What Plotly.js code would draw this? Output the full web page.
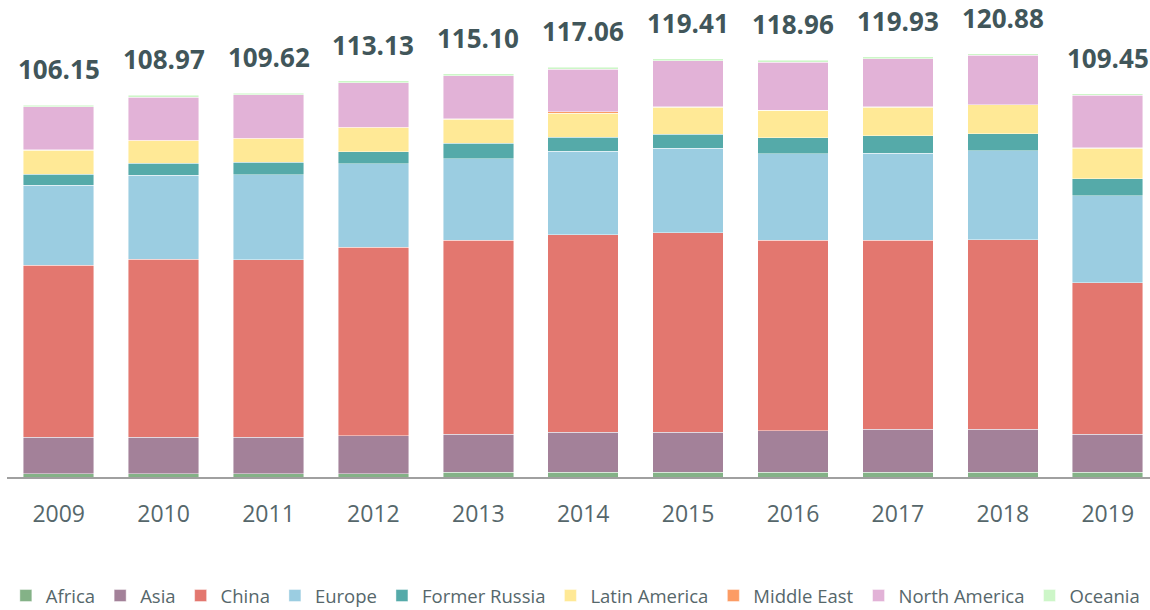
<!DOCTYPE html>
<html>
<head>
<meta charset="utf-8">
<script src="https://cdn.plot.ly/plotly-3.0.1.min.js"></script>
<style>
  html, body { margin: 0; padding: 0; background: #ffffff; }
  #chart { width: 1150px; height: 610px; }
</style>
</head>
<body>
<div id="chart"></div>
<script>
const years = ['2009','2010','2011','2012','2013','2014','2015','2016','2017','2018','2019'];
const totals = [106.15, 108.97, 109.62, 113.13, 115.10, 117.06, 119.41, 118.96, 119.93, 120.88, 109.45];

const africa        = [0.9, 0.9, 0.9, 0.9, 1.3, 1.3, 1.3, 1.3, 1.3, 1.3, 1.3];
const asia          = [10.48, 10.48, 10.48, 10.94, 10.94, 11.42, 11.42, 11.88, 12.37, 12.37, 10.94];
const china         = [49.08, 50.82, 50.72, 53.78, 55.33, 56.47, 56.97, 54.36, 54.00, 54.09, 43.24];
const europe        = [22.84, 23.90, 24.27, 23.79, 23.33, 23.79, 24.19, 24.76, 24.76, 25.33, 24.84];
const formerRussia  = [3.14, 3.43, 3.43, 3.51, 4.37, 4.00, 4.00, 4.57, 4.94, 4.85, 4.85];
const latinAmerica  = [6.85, 6.48, 6.85, 6.85, 6.85, 6.94, 7.71, 7.80, 8.19, 8.28, 8.68];
const middleEast    = [0.1, 0.1, 0.1, 0.1, 0.1, 0.4, 0.1, 0.1, 0.1, 0.1, 0.1];
const northAmerica  = [12.36, 12.36, 12.37, 12.76, 12.28, 12.17, 13.22, 13.71, 13.79, 14.08, 15.02];
const oceania       = [0.4, 0.5, 0.5, 0.5, 0.6, 0.57, 0.5, 0.48, 0.48, 0.48, 0.48];

const seriesNames = ['Africa','Asia','China','Europe','Former Russia','Latin America','Middle East','North America','Oceania'];
const seriesValues = [africa, asia, china, europe, formerRussia, latinAmerica, middleEast, northAmerica, oceania];
const seriesColors = ['#84b287','#a38199','#e3776f','#9bcde1','#55aaa9','#ffe996','#fc9c64','#e2b2d7','#cdf6c8'];

const traces = seriesNames.map((name, i) => ({
  type: 'bar',
  name: name,
  x: years,
  y: seriesValues[i],
  marker: { color: seriesColors[i], line: { color: 'rgba(255,255,255,0.55)', width: 0.8 } },
  hoverinfo: 'x+y+name'
}));

const annotations = years.map((yr, i) => ({
  x: i,
  y: totals[i],
  xref: 'x',
  yref: 'y',
  text: totals[i].toFixed(2),
  showarrow: false,
  yanchor: 'bottom',
  yshift: 16,
  font: { family: 'Open Sans, sans-serif', size: 26, color: '#41565a', weight: 'bold' }
}));

const layout = {
  width: 1150,
  height: 610,
  margin: { l: 7, r: 0, t: 21, b: 133, autoexpand: false },
  paper_bgcolor: '#ffffff',
  plot_bgcolor: '#ffffff',
  barmode: 'stack',
  bargap: 0.328,
  showlegend: true,
  legend: {
    orientation: 'h',
    x: -0.001,
    xanchor: 'left',
    y: -0.261,
    yanchor: 'middle',
    traceorder: 'normal',
    font: { family: 'Open Sans, sans-serif', size: 18.5, color: '#56676b' }
  },
  xaxis: {
    type: 'category',
    range: [-0.4928, 10.403],
    showline: true,
    linecolor: '#a0a0a0',
    linewidth: 2,
    ticks: '',
    ticklabelstandoff: 15,
    showgrid: false,
    zeroline: false,
    fixedrange: true,
    tickfont: { family: 'Open Sans, sans-serif', size: 23, color: '#56676b' }
  },
  yaxis: {
    range: [0, 130.2],
    showticklabels: false,
    showgrid: false,
    zeroline: false,
    showline: false,
    ticks: '',
    fixedrange: true
  },
  annotations: annotations
};

Plotly.newPlot('chart', traces, layout, { displayModeBar: false, responsive: false });
</script>
</body>
</html>
